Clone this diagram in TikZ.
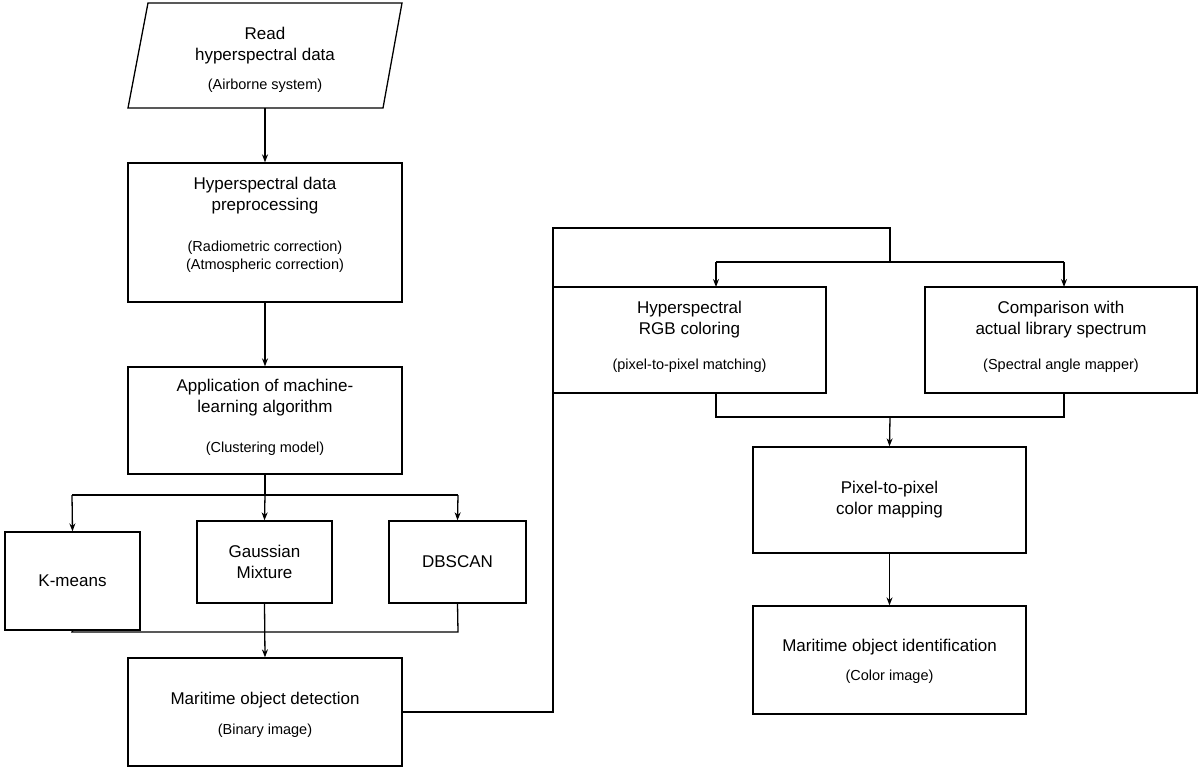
\documentclass[tikz,border=0pt]{standalone}
\usepackage{fontspec}
\setmainfont{Liberation Sans}
\usetikzlibrary{arrows.meta}
\begin{document}
\begin{tikzpicture}[x=1pt,y=-1pt,
  bx/.style={draw,line width=1.3pt,align=center,font=\fontsize{17}{21}\selectfont},
  tx/.style={align=center,font=\fontsize{17}{21}\selectfont},
  sm/.style={align=center,font=\fontsize{14.5}{18}\selectfont},
  ln/.style={line width=1.3pt},
  ar/.style={line width=1.3pt,-{Stealth[length=8pt,width=6pt]}}]
\useasboundingbox (0,0) rectangle (1204,771);
% parallelogram
\draw[ln] (148,3) -- (402,3) -- (383,108) -- (128,108) -- cycle;
\node[tx] (a) at (265,46) {Read\\hyperspectral data};
\node[sm] (a2) at (265,86) {(Airborne system)};
\coordinate (abot) at (265,108);
\node[bx,minimum width=274pt,minimum height=139pt] (b) at (265,232.5) {};
\node[tx] at (265,196) {Hyperspectral data\\preprocessing};
\node[sm] at (265,257) {(Radiometric correction)\\(Atmospheric correction)};
\node[bx,minimum width=274pt,minimum height=107pt] (c) at (265,420.5) {};
\node[tx] at (265,398) {Application of machine-\\learning algorithm};
\node[sm] at (265,449) {(Clustering model)};
\node[bx,minimum width=135pt,minimum height=98pt] (k) at (72.5,581) {K-means};
\node[bx,minimum width=135pt,minimum height=82pt] (g) at (264.5,562) {Gaussian\\Mixture};
\node[bx,minimum width=137pt,minimum height=82pt] (d) at (457.5,562) {DBSCAN};
\node[bx,minimum width=274pt,minimum height=108pt] (m) at (265,712) {};
\node[tx] at (265,700) {Maritime object detection};
\node[sm] at (265,731) {(Binary image)};
\node[bx,minimum width=273pt,minimum height=106pt] (h) at (689.5,340) {};
\node[tx] at (689.5,320) {Hyperspectral\\RGB coloring};
\node[sm] at (689.5,366) {(pixel-to-pixel matching)};
\node[bx,minimum width=272pt,minimum height=106pt] (s) at (1061,340) {};
\node[tx] at (1061,320) {Comparison with\\actual library spectrum};
\node[sm] at (1061,366) {(Spectral angle mapper)};
\node[bx,minimum width=273pt,minimum height=106pt] (p) at (889.5,500) {Pixel-to-pixel\\color mapping};
\node[bx,minimum width=273pt,minimum height=108pt] (i) at (889.5,660) {};
\node[tx] at (889.5,647) {Maritime object identification};
\node[sm] at (889.5,677) {(Color image)};
% connectors
\draw[ar] (abot) -- (b);
\draw[ar] (b) -- (c);
\draw[ln] (c.south) -- (265,495);
\draw[ln] (72,495) -- (458,495);
\draw[ar] (72,495) -- (k.north);
\draw[ar] (265,495) -- (g.north);
\draw[ar] (458,495) -- (d.north);
\draw[ln] (k.south) -- (72,632) -- (458,632) -- (d.south);
\draw[ar] (g.south) -- (m.north);
\draw[ln] (m.east) -- (553,712) -- (553,228) -- (890,228) -- (890,262);
\draw[ln] (716,262) -- (1064,262);
\draw[ar] (716,262) -- (716,287);
\draw[ar] (1064,262) -- (1064,287);
\draw[ln] (716,393) -- (716,417) -- (1064,417) -- (1064,393);
\draw[ar] (890,417) -- (p.north);
\draw[ar] (p.south) -- (i.north);
\end{tikzpicture}
\end{document}
